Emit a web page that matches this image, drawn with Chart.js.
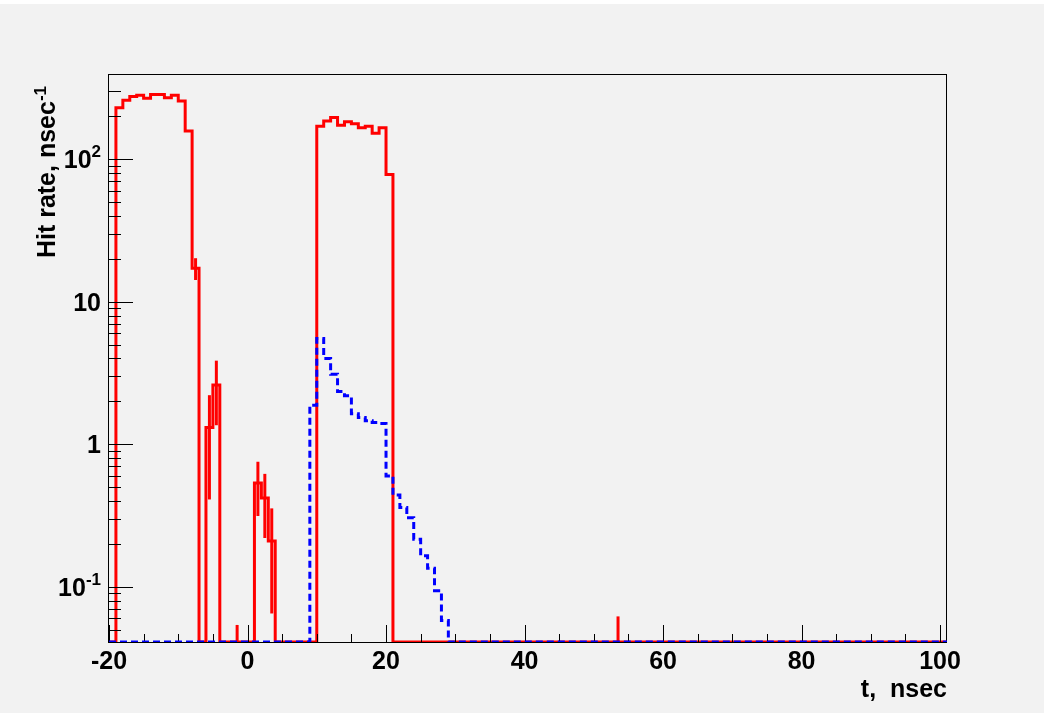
<!DOCTYPE html>
<html>
<head>
<meta charset="utf-8">
<script src="https://cdn.jsdelivr.net/npm/chart.js@4"></script>
<style>
  html, body { margin: 0; padding: 0; background: #ffffff; }
  #wrap { position: absolute; left: 0; top: 4px; width: 1044px; height: 709px; background: #f2f2f2; }
  canvas { display: block; }
</style>
</head>
<body>
<div id="wrap"><canvas id="chart" width="1044" height="709"></canvas></div>
<script>
// axis ranges
const xMin = -20, xMax = 101;
const yMin = 0.041, yMax = 396;

// tick labels
const xTickValues = [-20, 0, 20, 40, 60, 80, 100];
const xTickLabels = ['-20', '0', '20', '40', '60', '80', '100'];
const yTickValues = [0.1, 1, 10, 100];
const yTickBase = ['10', '1', '10', '10'];
const yTickExp = ['-1', '', '', '2'];

// red histogram: lower bin edge (1 ns bins), rate, error (0 = not visible)
const redBins = [-19, -18, -17, -16, -15, -14, -13, -12, -11, -10, -9, -8, -6, -5, -2,
                 1, 2, 3, 10, 11, 12, 13, 14, 15, 16, 17, 18, 19, 20, 53];
const redRates = [230, 259, 275, 281, 268, 284, 284, 270, 281, 256, 158, 17.2, 1.31, 2.61, 0.027,
                  0.534, 0.42, 0.21, 170, 185, 196, 173, 183, 177, 166, 170, 152, 166, 78, 0.031];
const redErrors = [0, 0, 0, 0, 0, 0, 0, 0, 0, 0, 0, 3.0, 0.9, 1.25, 0.027,
                   0.22, 0.2, 0.145, 0, 0, 0, 0, 0, 0, 0, 0, 0, 0, 0, 0.031];

// blue histogram
const blueBins = [9, 10, 11, 12, 13, 14, 15, 16, 17, 18, 19, 20, 21, 22, 23, 24, 25, 26, 27, 28];
const blueRates = [1.88, 5.53, 4.0, 3.1, 2.35, 2.19, 1.64, 1.54, 1.46, 1.42, 1.40,
                   0.60, 0.44, 0.36, 0.305, 0.216, 0.165, 0.135, 0.094, 0.058];

const FONT = '"Liberation Sans", Arial, Helvetica, sans-serif';

// empty bins are drawn on the bottom of the frame, like ROOT does
function stepPoints(bins, rates) {
  const pts = [];
  for (let b = xMin; b < xMax; b++) {
    const i = bins.indexOf(b);
    const v = i < 0 ? 0 : rates[i];
    pts.push({ x: b, y: Math.max(v, yMin) });
  }
  pts.push({ x: xMax, y: pts[pts.length - 1].y });
  return pts;
}

function drawErrorBars(chart) {
  const ctx = chart.ctx, xs = chart.scales.x, ys = chart.scales.y;
  ctx.save();
  ctx.strokeStyle = '#ff0000';
  ctx.lineWidth = 3;
  redBins.forEach((b, i) => {
    const e = redErrors[i];
    if (!e) return;
    const v = redRates[i];
    const px = xs.getPixelForValue(b + 0.5);
    const lo = ys.getPixelForValue(Math.max(v - e, yMin));
    const hi = ys.getPixelForValue(v + e);
    ctx.beginPath();
    ctx.moveTo(px, lo);
    ctx.lineTo(px, hi);
    ctx.stroke();
  });
  ctx.restore();
}

function drawFrame(chart) {
  const ctx = chart.ctx, xs = chart.scales.x, ys = chart.scales.y;
  const a = chart.chartArea;
  ctx.save();
  ctx.strokeStyle = '#000000';
  ctx.lineWidth = 1;
  ctx.strokeRect(Math.round(a.left) - 0.5, Math.round(a.top) + 0.5,
                 Math.round(a.right - a.left), Math.round(a.bottom - a.top));
  ctx.beginPath();
  // x ticks, inside the frame
  for (let v = xMin; v <= 100; v += 5) {
    const px = Math.round(xs.getPixelForValue(v)) + 0.5;
    const len = v % 20 === 0 ? 17 : 8;
    ctx.moveTo(px, a.bottom);
    ctx.lineTo(px, a.bottom - len);
  }
  // y ticks (log)
  for (let d = -2; d <= 2; d++) {
    for (let k = 1; k <= 9; k++) {
      const v = k * Math.pow(10, d);
      if (v < yMin || v > yMax) continue;
      const py = Math.round(ys.getPixelForValue(v)) + 0.5;
      const len = k === 1 ? 24 : 12;
      ctx.moveTo(a.left, py);
      ctx.lineTo(a.left + len, py);
    }
  }
  ctx.stroke();
  ctx.restore();
}

function drawTexts(chart) {
  const ctx = chart.ctx, xs = chart.scales.x, ys = chart.scales.y;
  const a = chart.chartArea;
  ctx.save();
  ctx.fillStyle = '#000000';
  ctx.font = 'bold 25px ' + FONT;

  // x labels
  ctx.textAlign = 'center';
  ctx.textBaseline = 'alphabetic';
  xTickValues.forEach((v, i) => {
    ctx.fillText(xTickLabels[i], xs.getPixelForValue(v), a.bottom + 27);
  });

  // y labels with superscript exponents
  const right = 101;
  yTickValues.forEach((v, i) => {
    const py = ys.getPixelForValue(v);
    ctx.textAlign = 'left';
    ctx.textBaseline = 'alphabetic';
    ctx.font = 'bold 17px ' + FONT;
    const ew = yTickExp[i] ? ctx.measureText(yTickExp[i]).width : 0;
    ctx.font = 'bold 25px ' + FONT;
    const bw = ctx.measureText(yTickBase[i]).width;
    const x0 = right - ew - bw;
    const base = py + 9;
    ctx.fillText(yTickBase[i], x0, base);
    if (yTickExp[i]) {
      ctx.font = 'bold 17px ' + FONT;
      ctx.fillText(yTickExp[i], x0 + bw, base - 11);
    }
  });

  // x title
  ctx.font = 'bold 25px ' + FONT;
  ctx.textAlign = 'right';
  ctx.fillText('t,  nsec', a.right, 693);

  // y title, rotated
  ctx.save();
  ctx.translate(55, a.top + 12);
  ctx.rotate(-Math.PI / 2);
  ctx.textAlign = 'left';
  ctx.font = 'bold 17px ' + FONT;
  const supW = ctx.measureText('-1').width;
  ctx.fillText('-1', -supW, -9);
  ctx.font = 'bold 25px ' + FONT;
  ctx.textAlign = 'right';
  ctx.fillText('Hit rate, nsec', -supW, 0);
  ctx.restore();

  ctx.restore();
}

const rootLook = {
  id: 'rootLook',
  afterDatasetDraw(chart, args) {
    if (args.index !== 0) return; // after the red histogram, before the blue one
    drawErrorBars(chart);
    drawFrame(chart);
  },
  afterDraw(chart) {
    drawTexts(chart);
  }
};

new Chart(document.getElementById('chart'), {
  type: 'line',
  data: {
    datasets: [
      {
        label: 'red',
        data: stepPoints(redBins, redRates),
        borderColor: '#ff0000',
        borderWidth: 3,
        stepped: 'before',
        pointRadius: 0,
        fill: false,
        order: 2
      },
      {
        label: 'blue',
        data: stepPoints(blueBins, blueRates),
        borderColor: '#0000ff',
        borderWidth: 3,
        borderDash: [7, 4],
        stepped: 'before',
        pointRadius: 0,
        fill: false,
        order: 1
      }
    ]
  },
  options: {
    responsive: false,
    animation: false,
    layout: { padding: { left: 109, right: 97, top: 70, bottom: 71 } },
    plugins: { legend: { display: false }, tooltip: { enabled: false } },
    scales: {
      x: { type: 'linear', min: xMin, max: xMax, display: false },
      y: { type: 'logarithmic', min: yMin, max: yMax, display: false }
    }
  },
  plugins: [rootLook]
});
</script>
</body>
</html>
